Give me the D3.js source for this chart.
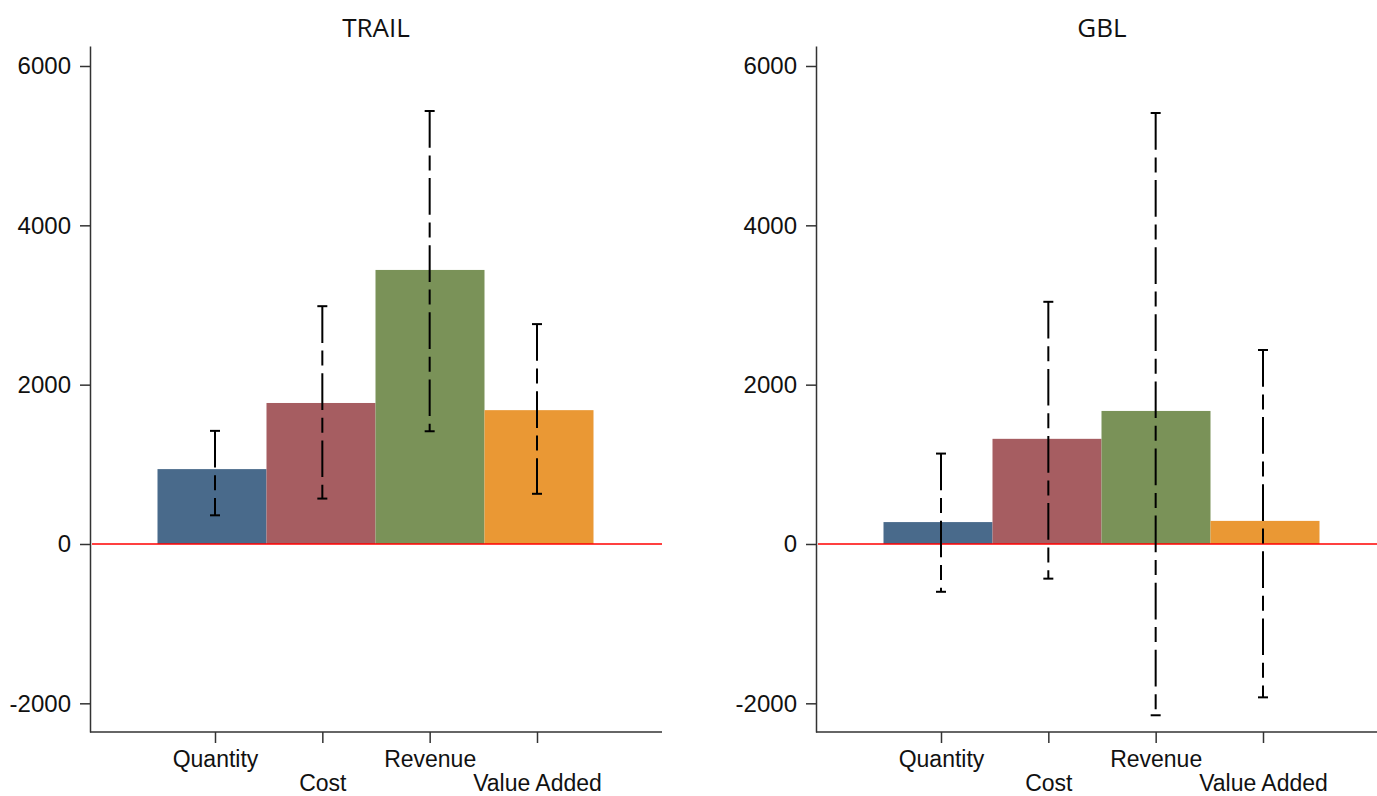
<!DOCTYPE html>
<html>
<head>
<meta charset="utf-8">
<script src="https://cdn.jsdelivr.net/npm/d3@7"></script>
<style>
  body { margin: 0; background: #fff; }
  svg { display: block; font-family: "Open Sans", sans-serif; }
</style>
</head>
<body>
<script>
// categories and colours
const categories = ["Quantity", "Cost", "Revenue", "Value Added"];
const barColors = ["#496a8b", "#a65d61", "#7a9258", "#ea9834"];
const yTicks = [-2000, 0, 2000, 4000, 6000];

// TRAIL panel
const trailMean = [940, 1770, 3440, 1680];
const trailLow = [360, 570, 1415, 630];
const trailHigh = [1420, 2985, 5435, 2760];

// GBL panel
const gblMean = [275, 1320, 1670, 290];
const gblLow = [-600, -435, -2150, -1925];
const gblHigh = [1135, 3040, 5410, 2435];

const panels = [
  { title: "TRAIL", x0: 90, mean: trailMean, low: trailLow, high: trailHigh },
  { title: "GBL", x0: 816, mean: gblMean, low: gblLow, high: gblHigh }
];

const width = 1377, height = 796;
const plotW = 572, plotTop = 46, plotBottom = 732;

const svg = d3.select("body").append("svg")
  .attr("width", width)
  .attr("height", height);

const y = d3.scaleLinear()
  .domain([-2360, 6251])
  .range([plotBottom, plotTop]);

// bars on a band scale, ticks / error bars on a point scale
const xBand = d3.scaleBand().domain(categories).range([67.5, 503.5]).padding(0);
const xPoint = d3.scalePoint().domain(categories).range([125, 447]);

panels.forEach(p => {
  const g = svg.append("g").attr("transform", `translate(${p.x0},0)`);

  // title
  g.append("text")
    .attr("x", plotW / 2)
    .attr("y", 37)
    .attr("text-anchor", "middle")
    .attr("font-size", 26)
    .attr("fill", "#111")
    .text(p.title);

  // bars
  g.selectAll("rect.bar")
    .data(categories)
    .join("rect")
    .attr("class", "bar")
    .attr("x", d => xBand(d))
    .attr("width", xBand.bandwidth())
    .attr("y", (d, i) => y(Math.max(0, p.mean[i])))
    .attr("height", (d, i) => Math.abs(y(p.mean[i]) - y(0)))
    .attr("fill", (d, i) => barColors[i]);

  // zero line
  g.append("line")
    .attr("x1", 2).attr("x2", plotW)
    .attr("y1", y(0)).attr("y2", y(0))
    .attr("stroke", "#ff0000")
    .attr("stroke-width", 1.5);

  // error bars
  const eb = g.selectAll("g.eb")
    .data(categories)
    .join("g")
    .attr("class", "eb")
    .attr("stroke", "#000")
    .attr("stroke-width", 2);

  eb.append("line")
    .attr("x1", d => xPoint(d)).attr("x2", d => xPoint(d))
    .attr("y1", (d, i) => y(p.high[i]))
    .attr("y2", (d, i) => y(p.low[i]))
    .attr("stroke-dasharray", "36.7,7.7,15,7.7");

  eb.append("line")
    .attr("x1", d => xPoint(d) - 5).attr("x2", d => xPoint(d) + 5)
    .attr("y1", (d, i) => y(p.high[i])).attr("y2", (d, i) => y(p.high[i]));

  eb.append("line")
    .attr("x1", d => xPoint(d) - 5).attr("x2", d => xPoint(d) + 5)
    .attr("y1", (d, i) => y(p.low[i])).attr("y2", (d, i) => y(p.low[i]));

  // y axis
  const ya = g.append("g")
    .call(d3.axisLeft(y)
      .tickValues(yTicks)
      .tickSize(10)
      .tickSizeOuter(0)
      .tickPadding(9)
      .tickFormat(d => String(d)));
  ya.selectAll("text").attr("font-size", 24).attr("fill", "#111").attr("font-family", null);
  ya.selectAll("line, path").attr("stroke", "#333").attr("stroke-width", 1.5);

  // x axis
  const xLine = d3.scaleLinear().domain([0, 1]).range([0, plotW]);
  g.append("line")
    .attr("x1", xLine(0)).attr("x2", xLine(1))
    .attr("y1", plotBottom).attr("y2", plotBottom)
    .attr("stroke", "#333").attr("stroke-width", 1.5);

  const xa = g.append("g")
    .attr("transform", `translate(0,${plotBottom})`)
    .call(d3.axisBottom(xPoint).tickSize(11).tickSizeOuter(0));
  xa.select(".domain").remove();
  xa.selectAll("line").attr("stroke", "#333").attr("stroke-width", 1.5);
  xa.selectAll("text")
    .attr("font-size", 23)
    .attr("font-family", null)
    .attr("fill", "#111")
    .attr("dy", null)
    .attr("y", (d, i) => i % 2 === 0 ? 35 : 59);
});
</script>
</body>
</html>
